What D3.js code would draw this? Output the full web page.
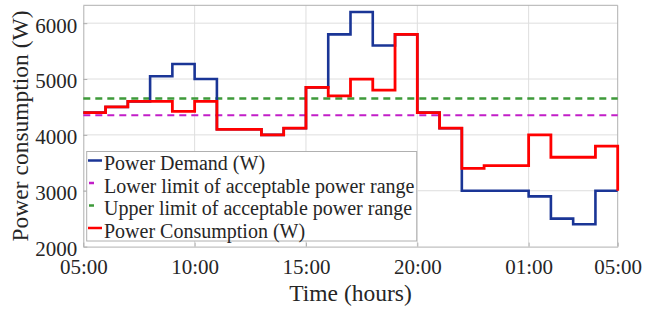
<!DOCTYPE html>
<html>
<head>
<meta charset="utf-8">
<script src="https://cdn.jsdelivr.net/npm/d3@7"></script>
<style>
  body { margin: 0; background: #fff; }
  text { font-family: "Liberation Serif", "Times New Roman", serif; fill: #262626; }
</style>
</head>
<body>
<svg id="chart" width="645" height="310"></svg>
<script>
// hours after 05:00, one step per hour, last point closes the stairs
var hours = d3.range(0, 25);
var demand = [4400, 4500, 4600, 5050, 5270, 5000, 4100, 4100, 4000, 4120, 4850, 5800, 6200,
              5600, 5800, 4400, 4120, 3000, 3000, 3000, 2900, 2500, 2400, 3000, 3000];
var consumption = [4400, 4500, 4600, 4600, 4420, 4600, 4100, 4100, 4000, 4120, 4850, 4700, 5000,
                   4800, 5800, 4400, 4120, 3400, 3450, 3450, 4000, 3600, 3600, 3800, 3000];
var lowerLimit = 4350;
var upperLimit = 4650;
var xTicks = [0, 5, 10, 15, 20, 24];
var xTickLabels = ["05:00", "10:00", "15:00", "20:00", "01:00", "05:00"];
var yTicks = [2000, 3000, 4000, 5000, 6000];
var legendNames = ["Power Demand (W)", "Lower limit of acceptable power range",
                   "Upper limit of acceptable power range", "Power Consumption (W)"];

var svg = d3.select("#chart");
var pL = 83.3, pR = 617.7, pT = 5.3, pB = 246.6;

var x = d3.scaleLinear().domain([0, 24]).range([pL, pR]);
var y = d3.scaleLinear().domain([2000, 6320]).range([pB, pT]);

// grid
svg.append("g").selectAll("line").data(xTicks.slice(1, -1)).enter().append("line")
   .attr("x1", d => x(d)).attr("x2", d => x(d)).attr("y1", pT).attr("y2", pB)
   .style("stroke", "#dedede").style("stroke-width", 1);
svg.append("g").selectAll("line").data(yTicks.slice(1)).enter().append("line")
   .attr("x1", pL).attr("x2", pR).attr("y1", d => y(d)).attr("y2", d => y(d))
   .style("stroke", "#dedede").style("stroke-width", 1);

// axes (ticks pointing inward like the original)
var xAxis = svg.append("g").attr("transform", "translate(0," + pB + ")")
   .call(d3.axisBottom(x).tickValues(xTicks).tickFormat((d, i) => xTickLabels[i]).tickSizeInner(-4).tickSizeOuter(0).tickPadding(12.5));
var yAxis = svg.append("g").attr("transform", "translate(" + pL + ",0)")
   .call(d3.axisLeft(y).tickValues(yTicks).tickFormat(d3.format("d")).tickSizeInner(-4).tickSizeOuter(0).tickPadding(6));
[xAxis, yAxis].forEach(function(a) {
  a.select(".domain").style("stroke", "#b0b0b0");
  a.selectAll(".tick line").style("stroke", "#b0b0b0");
  a.selectAll(".tick text").style("font-size", "21px").style("font-family", "Liberation Serif").style("fill", "#262626");
});
yAxis.selectAll(".tick text").attr("dy", "0.42em");
svg.append("line").attr("x1", pL).attr("x2", pR).attr("y1", pT).attr("y2", pT).style("stroke", "#b0b0b0");
svg.append("line").attr("x1", pR).attr("x2", pR).attr("y1", pT).attr("y2", pB).style("stroke", "#b0b0b0");

// limits
svg.append("line").attr("x1", x(0)).attr("x2", x(24)).attr("y1", y(lowerLimit)).attr("y2", y(lowerLimit))
   .style("stroke", "#c21ec8").style("stroke-width", 2).style("stroke-dasharray", "7,5");
svg.append("line").attr("x1", x(0)).attr("x2", x(24)).attr("y1", y(upperLimit)).attr("y2", y(upperLimit))
   .style("stroke", "#3e9a3a").style("stroke-width", 2.5).style("stroke-dasharray", "7,5");

var line = d3.line().x((d, i) => x(hours[i])).y(d => y(d)).curve(d3.curveStepAfter);
svg.append("path").datum(demand).attr("d", line)
   .style("fill", "none").style("stroke", "#1a3596").style("stroke-width", 2.6);
svg.append("path").datum(consumption).attr("d", line)
   .style("fill", "none").style("stroke", "#ff0000").style("stroke-width", 2.8);

// legend
var lg = svg.append("g");
lg.append("rect").attr("x", 86.7).attr("y", 151.5).attr("width", 330).attr("height", 89.5)
  .style("fill", "#fff").style("stroke", "#b0b0b0").style("stroke-width", 1);
var legendColors = ["#1a3596", "#c21ec8", "#3e9a3a", "#ff0000"];
legendNames.forEach(function(name, i) {
  var by = 170 + i * 22.5;
  var dashed = (i == 1 || i == 2);
  lg.append("line").attr("x1", dashed ? 89 : 88).attr("x2", dashed ? 94 : 102)
    .attr("y1", by - 9.5).attr("y2", by - 9.5)
    .style("stroke", legendColors[i]).style("stroke-width", 2.5);
  lg.append("text").attr("x", 104).attr("y", by).text(name).style("font-size", "20px");
});

// axis titles
svg.append("text").attr("x", (pL + pR) / 2).attr("y", 301).attr("text-anchor", "middle")
   .text("Time (hours)").style("font-size", "23.5px");
svg.append("text").attr("transform", "translate(28," + ((pT + pB) / 2) + ") rotate(-90)")
   .attr("text-anchor", "middle").text("Power consumption (W)").style("font-size", "23.5px");
</script>
</body>
</html>
